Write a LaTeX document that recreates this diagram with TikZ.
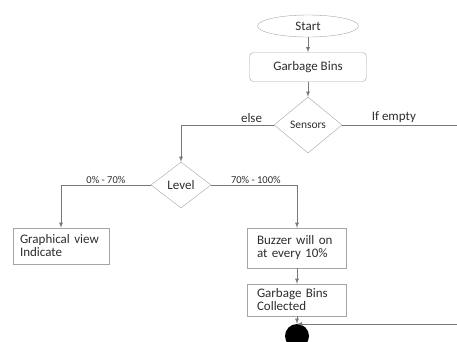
\documentclass[tikz,border=0pt]{standalone}
\usepackage{fontspec}
\setmainfont{Carlito}
\usepackage{tikz}
\usetikzlibrary{shapes.geometric}
\usetikzlibrary{arrows}
\usetikzlibrary{calc}
\definecolor{boxgray}{RGB}{165,165,165}
\definecolor{linegray}{RGB}{120,120,120}
\definecolor{textgray}{RGB}{45,45,45}
\tikzstyle{base} = [text=textgray, font=\fontsize{13}{13}\selectfont]
\tikzstyle{terminal} = [base, draw=boxgray, ellipse, minimum width=101, minimum height=22, inner sep=0]
\tikzstyle{roundbox} = [base, draw=boxgray, rounded corners=4, minimum width=117, minimum height=29]
\tikzstyle{block} = [base, draw=boxgray, rectangle, minimum height=40, text width=80, inner xsep=9.5, align=left]
\tikzstyle{decision} = [base, draw=boxgray, diamond, inner sep=0]
\tikzstyle{stopdot} = [fill=black, circle, minimum size=24, inner sep=0]
\tikzstyle{conn} = [draw=linegray, thick]
\tikzstyle{arrowconn} = [conn, -latex]
\tikzstyle{pctlabel} = [text=textgray, font=\fontsize{10.5}{12}\selectfont, inner sep=1.5]
\tikzstyle{branch} = [text=textgray, font=\fontsize{13}{13}\selectfont, inner sep=2]

\begin{document}
\begin{tikzpicture}[x=1pt, y=-1pt]
	\useasboundingbox (0,0) rectangle (457,341);

	\node (start) at(308,26) [terminal] {Start};
	\node (bins) at(308,67) [roundbox] {Garbage Bins};
	\node (sensors) at(308,125) [decision, minimum width=68, minimum height=56] {\fontsize{11.5}{12}\selectfont Sensors};
	\node (level) at(181,185) [decision, minimum width=60, minimum height=46] {Level};

	\node (graph) at(61,246) [block, text width=82, inner xsep=7, minimum height=36] {Graphical view\\Indicate};
	\node (buzzer) at(297,248) [block] {Buzzer will on\\at every 10\%};
	\node (collected) at(297,300) [block, minimum height=32] {Garbage Bins\\Collected};
	\node (stop) at(297,336) [stopdot] {};

	\coordinate (emptyend) at(457,125);
	\coordinate (backin) at(457,324);

	\draw[arrowconn] (start) -- (bins);
	\draw[arrowconn] (bins) -- (sensors);
	\draw[conn] (sensors.east) -- node[branch, pos=0.45, above] {If empty} (emptyend);
	\draw[arrowconn] (sensors.west) -| node[branch, pos=0.12, above] {else} (level.north);

	\draw[arrowconn] (level.west) -| node[pctlabel, pos=0.25, above] {0\% - 70\%} (graph.north);
	\draw[arrowconn] (level.east) -| node[pctlabel, pos=0.26, above] {70\% - 100\%} (buzzer.north);

	\draw[arrowconn] (buzzer) -- (collected);
	\draw[arrowconn] (collected) -- (stop);
	\draw[arrowconn] (backin) -- (backin -| stop.north);
\end{tikzpicture}
\end{document}
